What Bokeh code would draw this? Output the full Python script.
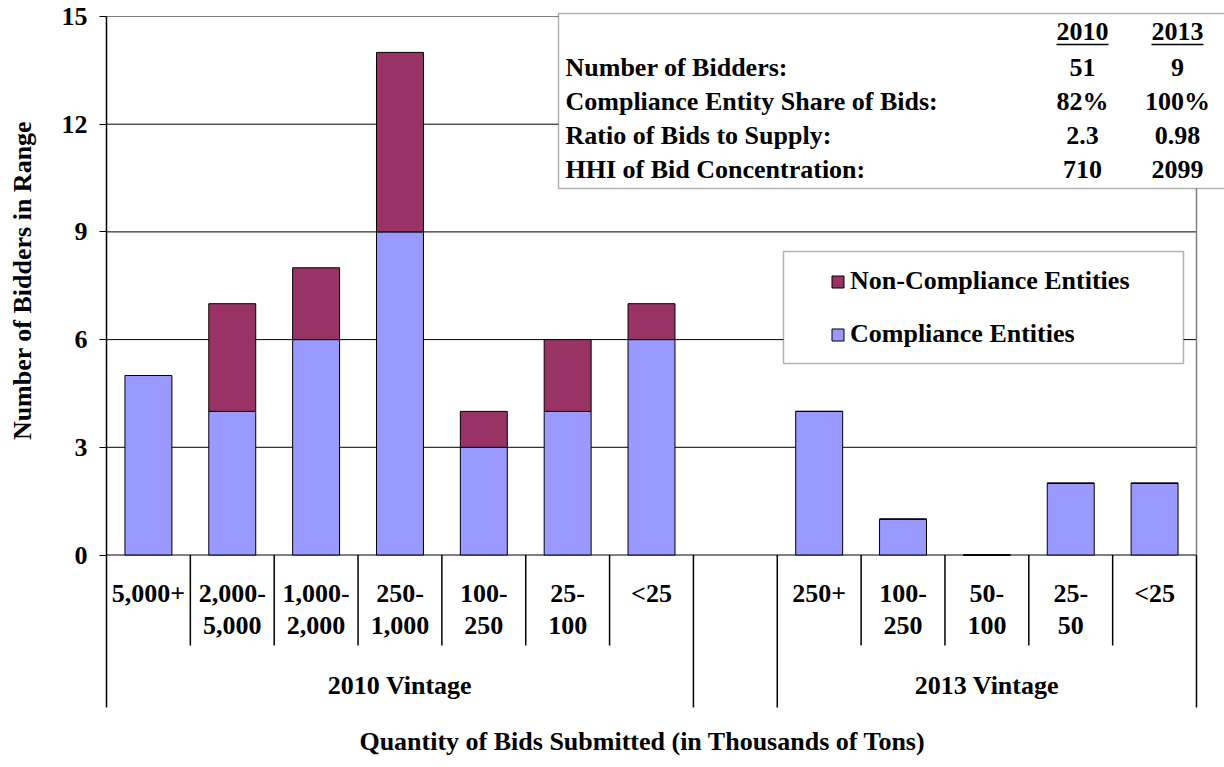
import math
from bokeh.plotting import figure
from bokeh.models import (ColumnDataSource, FixedTicker, Range1d, BoxAnnotation,
                          Legend, LegendItem)
from bokeh.core.properties import value
from bokeh.embed import file_html
from bokeh.resources import INLINE

# ---------------- data ----------------
groups = ["2010 Vintage", "", "2013 Vintage"]
group_sizes = [7, 1, 5]
categories = ["5,000+", "2,000-\n5,000", "1,000-\n2,000", "250-\n1,000", "100-\n250",
              "25-\n100", "<25",
              "",
              "250+", "100-\n250", "50-\n100", "25-\n50", "<25"]
compliance = [5, 4, 6, 9, 3, 4, 6, None, 4, 1, 0, 2, 2]
non_compliance = [0, 3, 2, 5, 1, 2, 1, None, 0, 0, 0, 0, 0]
y_ticks = [0, 3, 6, 9, 12, 15]

table_headers = ["2010", "2013"]
table_rows = ["Number of Bidders:", "Compliance Entity Share of Bids:",
              "Ratio of Bids to Supply:", "HHI of Bid Concentration:"]
table_2010 = ["51", "82%", "2.3", "710"]
table_2013 = ["9", "100%", "0.98", "2099"]

series_names = ["Non-Compliance Entities", "Compliance Entities"]
x_title = "Quantity of Bids Submitted (in Thousands of Tons)"
y_title = "Number of Bidders in Range"

# ---------------- layout helpers (page pixels -> data) ----------------
W, H = 1224, 767
N = len(categories)
Y_MAX = y_ticks[-1]
PLOT_L, PLOT_R = 106, 1196
Y_TOP_PX, Y_ZERO_PX = 16, 554.5
XS = (PLOT_R - PLOT_L) / N
YS = (Y_ZERO_PX - Y_TOP_PX) / Y_MAX


def dx(px):
    return (px - PLOT_L) / XS


def dy(py):
    return Y_MAX - (py - Y_TOP_PX) / YS


FONT = value("Liberation Serif")
BOLD = value("bold")
FS = value("26px")

p = figure(width=W, height=H,
           x_range=Range1d(dx(0), dx(W)),
           y_range=Range1d(dy(H), dy(0)),
           output_backend="svg", toolbar_location=None,
           x_axis_location=None,
           min_border_left=0, min_border_top=0,
           min_border_right=0, min_border_bottom=0)
p.outline_line_color = None
p.grid.visible = False
p.background_fill_color = "white"
p.border_fill_color = "white"

# y axis (drawn at x = 0 inside the frame)
ya = p.yaxis[0]
ya.fixed_location = 0
ya.ticker = FixedTicker(ticks=y_ticks)
ya.bounds = (0, Y_MAX)
ya.major_tick_out = 7
ya.major_tick_in = 0
ya.minor_tick_out = 0
ya.minor_tick_in = 0
ya.axis_line_color = "black"
ya.axis_line_width = 1.5
ya.major_tick_line_color = "black"
ya.major_label_text_font = "Liberation Serif"
ya.major_label_text_font_style = "bold"
ya.major_label_text_font_size = "26px"
ya.major_label_text_color = "black"
ya.major_label_standoff = 12

p.text(x=[dx(22)], y=[dy(280)], text=[y_title], angle=math.pi / 2,
       text_align="center", text_baseline="middle", text_font=FONT,
       text_font_style=BOLD, text_font_size=FS, text_color="black")

# horizontal grid lines
grid_colors = ["black" if t != Y_MAX else "#808080" for t in y_ticks]
p.segment(x0=[0] * len(y_ticks), x1=[N] * len(y_ticks), y0=y_ticks, y1=y_ticks,
          line_color=grid_colors, line_width=1)
# right border of plot area
p.segment(x0=[N], x1=[N], y0=[0], y1=[Y_MAX], line_color="#808080", line_width=1.5)

# category separators (below axis)
bounds = [0]
for s in group_sizes:
    bounds.append(bounds[-1] + s)
sep_x, sep_bottom = [], []
for i in range(N + 1):
    sep_x.append(i)
    sep_bottom.append(dy(707) if i in bounds else dy(645))
p.segment(x0=sep_x, x1=sep_x, y0=[0] * len(sep_x), y1=sep_bottom,
          line_color="black", line_width=1.5)

# bars
idx = [i for i in range(N) if compliance[i] is not None]
src = ColumnDataSource(dict(
    x=[i + 0.5 for i in idx],
    comp=[compliance[i] for i in idx],
    total=[compliance[i] + non_compliance[i] for i in idx],
))
r_comp = p.vbar(x="x", width=0.56, bottom=0, top="comp", source=src,
                fill_color="#9999FF", line_color="black", line_width=1)
r_non = p.vbar(x="x", width=0.56, bottom="comp", top="total", source=src,
               fill_color="#993366", line_color="black", line_width=1)

# category labels
line1 = [c.split("\n")[0] for c in categories]
line2 = [c.split("\n")[1] if "\n" in c else "" for c in categories]
centers = [i + 0.5 for i in range(N)]
for txt, ypx in ((line1, 593), (line2, 625)):
    p.text(x=centers, y=[dy(ypx)] * N, text=txt, text_align="center",
           text_baseline="middle", text_font=FONT, text_font_style=BOLD,
           text_font_size=FS, text_color="black")
gx = [(bounds[k] + bounds[k + 1]) / 2 for k in range(len(groups)) if groups[k]]
gt = [g for g in groups if g]
p.text(x=gx, y=[dy(685)] * len(gx), text=gt, text_align="center",
       text_baseline="middle", text_font=FONT, text_font_style=BOLD,
       text_font_size=FS, text_color="black")
p.text(x=[dx(642)], y=[dy(741)], text=[x_title], text_align="center",
       text_baseline="middle", text_font=FONT, text_font_style=BOLD,
       text_font_size=FS, text_color="black")

# stats table
p.add_layout(BoxAnnotation(left=dx(558), right=dx(1240), top=dy(13), bottom=dy(188),
                           fill_color="white", fill_alpha=1, line_color="black",
                           line_width=1.5))
row_y = [dy(v) for v in (67, 101, 135, 169)]
col_x = [dx(1082), dx(1177)]
p.text(x=[dx(565)] * len(table_rows), y=row_y, text=table_rows, text_align="left",
       text_baseline="middle", text_font=FONT, text_font_style=BOLD,
       text_font_size=FS, text_color="black", level="overlay")
for cx, vals in zip(col_x, (table_2010, table_2013)):
    p.text(x=[cx] * len(vals), y=row_y, text=vals, text_align="center",
           text_baseline="middle", text_font=FONT, text_font_style=BOLD,
           text_font_size=FS, text_color="black", level="overlay")
p.text(x=col_x, y=[dy(31)] * 2, text=table_headers, text_align="center",
       text_baseline="middle", text_font=FONT, text_font_style=BOLD,
       text_font_size=FS, text_color="black", level="overlay")
half = 26 / XS
p.segment(x0=[c - half for c in col_x], x1=[c + half for c in col_x],
          y0=[dy(44)] * 2, y1=[dy(44)] * 2, line_color="black", line_width=1.5,
          level="overlay")

# legend
p.add_layout(BoxAnnotation(left=dx(783), right=dx(1183), top=dy(251), bottom=dy(363),
                           fill_color="white", fill_alpha=1, line_color="black",
                           line_width=1.5))
legend = Legend(items=[LegendItem(label=series_names[0], renderers=[r_non]),
                       LegendItem(label=series_names[1], renderers=[r_comp])],
                location=(830, H - 349), padding=0, margin=0, spacing=23,
                glyph_width=15, glyph_height=15, label_standoff=5, label_height=30,
                label_text_font="Liberation Serif", label_text_font_style="bold",
                label_text_font_size="26px", label_text_color="black",
                border_line_color=None, background_fill_alpha=0)
p.add_layout(legend)

open("out.html", "w").write(file_html(p, INLINE))
